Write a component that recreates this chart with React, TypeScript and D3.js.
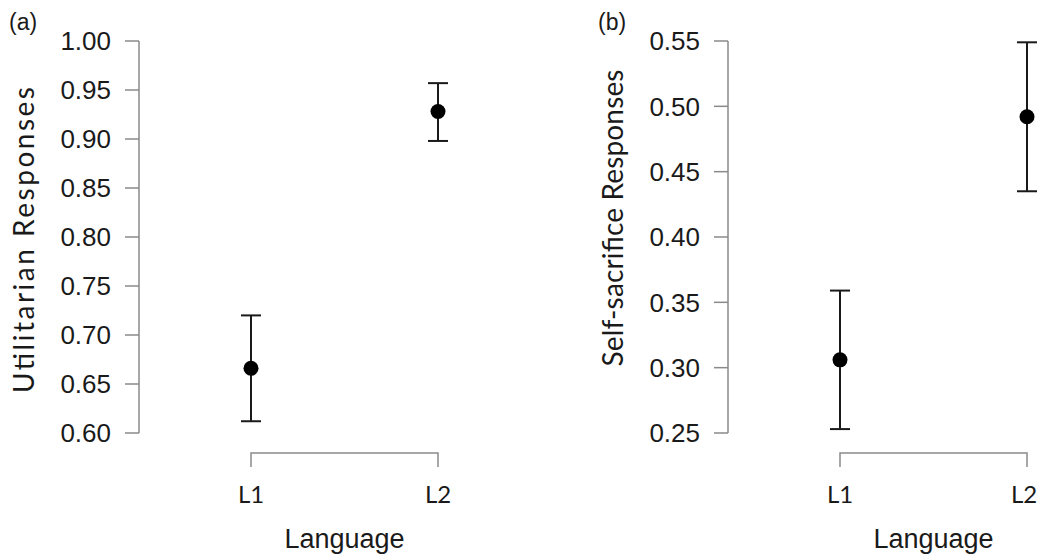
import React from 'react';
import * as d3 from 'd3';

// values
const categories = ['L1', 'L2'];

const utilMean = [0.666, 0.928];
const utilLow = [0.612, 0.898];
const utilHigh = [0.720, 0.957];
const utilTicks = [0.60, 0.65, 0.70, 0.75, 0.80, 0.85, 0.90, 0.95, 1.00];

const selfMean = [0.306, 0.492];
const selfLow = [0.253, 0.435];
const selfHigh = [0.359, 0.549];
const selfTicks = [0.25, 0.30, 0.35, 0.40, 0.45, 0.50, 0.55];

const AXIS = '#8a8a8a';
const INK = '#1a1a1a';
const ARIAL = 'Liberation Sans, Arial, sans-serif';
const WIDTH = 1038;

type PanelProps = {
  left: number;
  tag: string;
  title: string;
  titleY: number;
  titleLen: number;
  mean: number[];
  low: number[];
  high: number[];
  ticks: number[];
};

const Panel = ({ left, tag, title, titleY, titleLen, mean, low, high, ticks }: PanelProps) => {
  const axisX = left + 139;
  const yScale = d3
    .scaleLinear()
    .domain([ticks[0], ticks[ticks.length - 1]])
    .range([433, 41]);
  const xScale = d3
    .scalePoint()
    .domain(categories)
    .range([left + 251, left + 438]);
  const fmt = d3.format('.2f');
  const xAxisY = 453;

  return (
    <g>
      <text x={left + 9} y={30} fontSize={23} fontFamily={ARIAL} fill={INK}>
        {tag}
      </text>

      {/* y axis */}
      <line x1={axisX} x2={axisX} y1={yScale(ticks[0])} y2={yScale(ticks[ticks.length - 1])} stroke={AXIS} strokeWidth={1.5} />
      {ticks.map((t) => (
        <g key={t}>
          <line x1={axisX - 14} x2={axisX} y1={yScale(t)} y2={yScale(t)} stroke={AXIS} strokeWidth={1.5} />
          <text
            x={axisX - 28}
            y={yScale(t)}
            dy="0.36em"
            textAnchor="end"
            fontSize={26}
            fontFamily={ARIAL}
            fill={INK}
          >
            {fmt(t)}
          </text>
        </g>
      ))}
      <text
        transform={`translate(${left + 24},${titleY}) rotate(-90)`}
        textAnchor="middle"
        dy="0.35em"
        fontSize={28}
        textLength={titleLen}
        lengthAdjust="spacing"
        fontFamily="Lato, sans-serif"
        fill={INK}
      >
        {title}
      </text>

      {/* x axis */}
      <path
        d={`M${xScale('L1')},${xAxisY + 14}V${xAxisY}H${xScale('L2')}V${xAxisY + 14}`}
        fill="none"
        stroke={AXIS}
        strokeWidth={1.5}
      />
      {categories.map((c) => (
        <text
          key={c}
          x={Math.min(xScale(c) as number, WIDTH - 14)}
          y={503}
          textAnchor="middle"
          fontSize={24}
          fontFamily="Lato, sans-serif"
          fill={INK}
        >
          {c}
        </text>
      ))}
      <text
        x={((xScale('L1') as number) + (xScale('L2') as number)) / 2}
        y={548}
        textAnchor="middle"
        fontSize={27}
        fontFamily={ARIAL}
        fill={INK}
      >
        Language
      </text>

      {/* error bars and means */}
      {categories.map((c, i) => {
        const x = xScale(c) as number;
        return (
          <g key={c} stroke={INK} strokeWidth={2}>
            <line x1={x} x2={x} y1={yScale(low[i])} y2={yScale(high[i])} />
            <line x1={x - 10} x2={x + 10} y1={yScale(low[i])} y2={yScale(low[i])} />
            <line x1={x - 10} x2={x + 10} y1={yScale(high[i])} y2={yScale(high[i])} />
            <circle cx={x} cy={yScale(mean[i])} r={7.5} fill="#000" stroke="none" />
          </g>
        );
      })}
    </g>
  );
};

const App = () => {
  return (
    <div style={{ position: 'absolute', left: 0, top: 0 }}>
      <svg width={WIDTH} height={557} style={{ display: 'block', background: '#fff' }}>
        <Panel left={0} tag="(a)" title="Utilitarian Responses" titleY={240} titleLen={306} mean={utilMean} low={utilLow} high={utilHigh} ticks={utilTicks} />
        <Panel left={589} tag="(b)" title="Self-sacrifice Responses" titleY={218} titleLen={297} mean={selfMean} low={selfLow} high={selfHigh} ticks={selfTicks} />
      </svg>
    </div>
  );
};

export default App;
